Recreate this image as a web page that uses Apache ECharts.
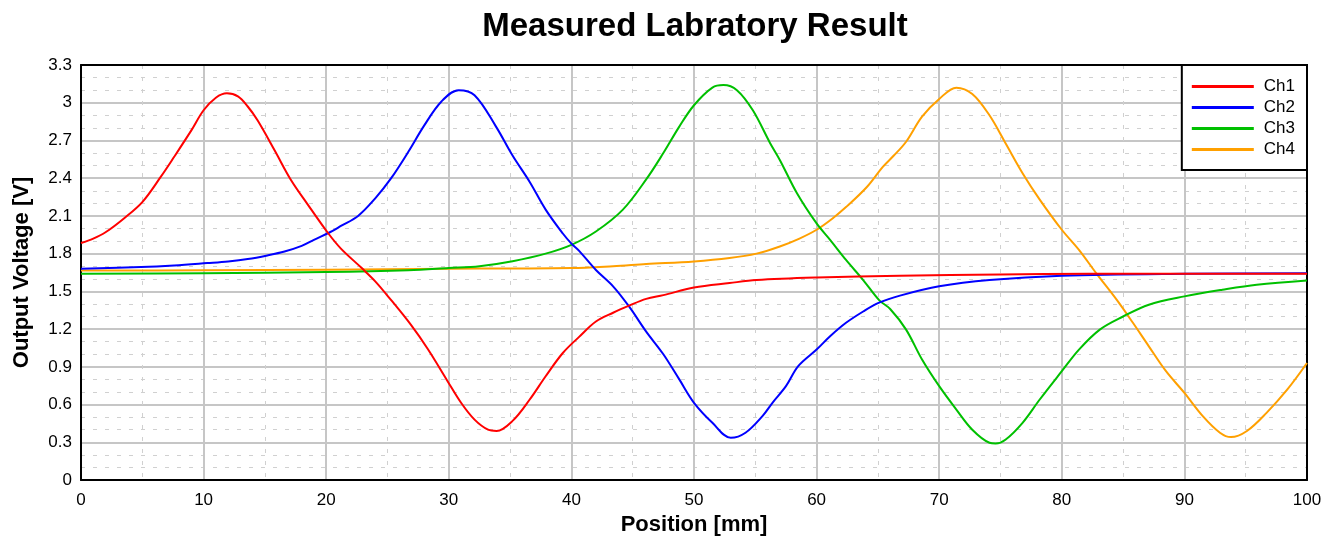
<!DOCTYPE html>
<html>
<head>
<meta charset="utf-8">
<script src="https://cdn.jsdelivr.net/npm/echarts@6/dist/echarts.min.js"></script>
<style>html,body{margin:0;padding:0;background:#fff}#c{width:1323px;height:536px}</style>
</head>
<body>
<div id="c"></div>
<script>
const chartTitle = 'Measured Labratory Result';
const xName = 'Position [mm]';
const yName = 'Output Voltage [V]';
const seriesNames = ['Ch1', 'Ch2', 'Ch3', 'Ch4'];
const seriesColors = ['#ff0000', '#0000ff', '#00c000', '#ffa000'];

const ch1X = [0,1,2,3.5,5,6.5,7.6,9,10,11,11.9,12.8,13.6,14.4,15.8,17.1,18.5,20.1,21.2,22.9,24,25.3,26.9,28.3,29.9,31,32.1,33.2,33.9,35.2,36.6,37.9,39.3,40.65,42,43.4,44.7,46.1,47.5,50,52.9,55.1,60,66.8,75,82.2,90,100];
const ch1Y = [1.885,1.92,1.97,2.08,2.21,2.41,2.57,2.78,2.94,3.04,3.075,3.05,2.97,2.86,2.62,2.39,2.19,1.97,1.84,1.685,1.58,1.43,1.235,1.04,0.786,0.614,0.48,0.40,0.39,0.47,0.64,0.825,1.01,1.14,1.26,1.33,1.386,1.44,1.47,1.53,1.566,1.59,1.61,1.625,1.635,1.64,1.64,1.64];

const ch2X = [0,4.9,7.6,10.3,12,13.6,15.2,16.6,18,19,20.3,21.2,22.6,24,25.3,26.7,28,29.4,30.8,32.1,33.85,35.2,36.6,37.9,39.3,40,40.65,42,43.4,44.7,46.1,47.5,48.8,50,51.5,53,54.2,55.6,56.4,57.5,58.5,60,61.1,62.4,63.8,65.1,66.8,70,74.1,80,90,100];
const ch2Y = [1.68,1.693,1.706,1.725,1.738,1.757,1.786,1.817,1.862,1.91,1.97,2.02,2.10,2.24,2.40,2.61,2.82,3.01,3.10,3.06,2.81,2.58,2.37,2.15,1.96,1.88,1.82,1.67,1.54,1.38,1.18,1.0,0.80,0.614,0.455,0.336,0.376,0.51,0.614,0.746,0.905,1.037,1.143,1.25,1.34,1.41,1.466,1.54,1.59,1.624,1.64,1.645];

const ch3X = [0,10,20,26.7,30,32.5,35.2,37.9,40,42,44.2,46.1,47.5,48.8,50,51.5,52.4,53.5,54.8,56.2,57,58.4,60,61.1,62.4,63.8,65.1,66,67.3,68.6,70,71.4,72.7,74.1,74.6,75.4,76.8,78.2,80,81.4,83.1,85,87.1,90,93.1,95.9,100];
const ch3Y = [1.64,1.645,1.653,1.667,1.685,1.70,1.74,1.80,1.87,1.976,2.15,2.39,2.60,2.81,2.98,3.12,3.14,3.10,2.94,2.68,2.545,2.28,2.04,1.91,1.75,1.59,1.43,1.36,1.196,0.958,0.746,0.56,0.40,0.296,0.29,0.32,0.455,0.64,0.865,1.037,1.196,1.30,1.394,1.46,1.513,1.553,1.587];

const ch4X = [0,10,20,30,35,40,43.4,46.1,50,52.9,55.1,57,58.6,60,61.3,62.4,64.1,65.4,66.3,67.3,68.6,70,71.4,72.7,74.1,75.4,76.8,78.2,80,81.4,82.8,84.5,85.8,87.1,88.5,90,91.5,92.9,93.8,95.1,96.7,98.4,100];
const ch4Y = [1.665,1.668,1.672,1.68,1.682,1.685,1.70,1.717,1.738,1.765,1.80,1.857,1.92,1.99,2.08,2.17,2.33,2.49,2.58,2.69,2.89,3.03,3.12,3.07,2.90,2.68,2.44,2.23,1.99,1.83,1.645,1.43,1.25,1.063,0.865,0.693,0.508,0.376,0.341,0.39,0.534,0.72,0.93];

const allX = [ch1X, ch2X, ch3X, ch4X];
const allY = [ch1Y, ch2Y, ch3Y, ch4Y];

const FONT = '"Liberation Sans", Arial, sans-serif';
const chart = echarts.init(document.getElementById('c'), null, {renderer: 'canvas'});

const series = seriesNames.map((n, i) => ({
  name: n,
  type: 'line',
  data: allX[i].map((x, k) => [x, allY[i][k]]),
  showSymbol: false,
  symbol: 'none',
  smooth: 0.35,
  lineStyle: {color: seriesColors[i], width: 2, join: 'round'},
  itemStyle: {color: seriesColors[i]},
  z: 10 - i,
  animation: false
}));

const gridLine = {show: true, lineStyle: {color: '#c6c6c6', width: 2}};
const minorLine = {show: true, lineStyle: {color: '#d0d0d0', width: 1, type: [4, 8]}};

chart.setOption({
  animation: false,
  backgroundColor: '#fff',
  title: {
    text: chartTitle,
    left: 690, textAlign: 'center', top: 5,
    textStyle: {fontFamily: FONT, fontSize: 33, fontWeight: 'bold', color: '#000'}
  },
  legend: {
    data: seriesNames,
    right: 16, top: 65,
    orient: 'vertical',
    backgroundColor: '#fff',
    borderColor: '#000', borderWidth: 2, borderRadius: 0,
    padding: [13, 12, 12, 10],
    itemWidth: 62, itemHeight: 3, itemGap: 4,
    icon: 'rect',
    textStyle: {fontFamily: FONT, fontSize: 17, color: '#000', lineHeight: 17, padding: [0, 0, 0, 5]},
    z: 20
  },
  grid: {left: 81, right: 16, top: 65, bottom: 56, containLabel: false, outerBoundsMode: 'none'},
  xAxis: [{
    type: 'value', min: 0, max: 100, interval: 10,
    name: xName, nameLocation: 'middle', nameGap: 33,
    nameTextStyle: {fontFamily: FONT, fontSize: 22, fontWeight: 'bold', color: '#000'},
    axisLine: {show: true, onZero: false, lineStyle: {color: '#000', width: 2}},
    axisTick: {show: false},
    axisLabel: {fontFamily: FONT, fontSize: 17, color: '#000', margin: 12},
    splitLine: gridLine,
    minorTick: {show: false, splitNumber: 2},
    minorSplitLine: minorLine
  }, {
    type: 'value', min: 0, max: 100, position: 'top',
    axisLine: {show: true, onZero: false, lineStyle: {color: '#000', width: 2}},
    axisTick: {show: false}, axisLabel: {show: false}, splitLine: {show: false}
  }],
  yAxis: [{
    type: 'value', min: 0, max: 3.3, interval: 0.3,
    name: yName, nameLocation: 'middle', nameGap: 48, nameRotate: 90,
    nameTextStyle: {fontFamily: FONT, fontSize: 22, fontWeight: 'bold', color: '#000'},
    axisLine: {show: true, onZero: false, lineStyle: {color: '#000', width: 2}},
    axisTick: {show: false},
    axisLabel: {fontFamily: FONT, fontSize: 17, color: '#000', margin: 9,
      formatter: v => String(Math.round(v * 10) / 10)},
    splitLine: gridLine,
    minorTick: {show: false, splitNumber: 3},
    minorSplitLine: minorLine
  }, {
    type: 'value', min: 0, max: 3.3, position: 'right',
    axisLine: {show: true, onZero: false, lineStyle: {color: '#000', width: 2}},
    axisTick: {show: false}, axisLabel: {show: false}, splitLine: {show: false}
  }],
  series: series
});
</script>
</body>
</html>
